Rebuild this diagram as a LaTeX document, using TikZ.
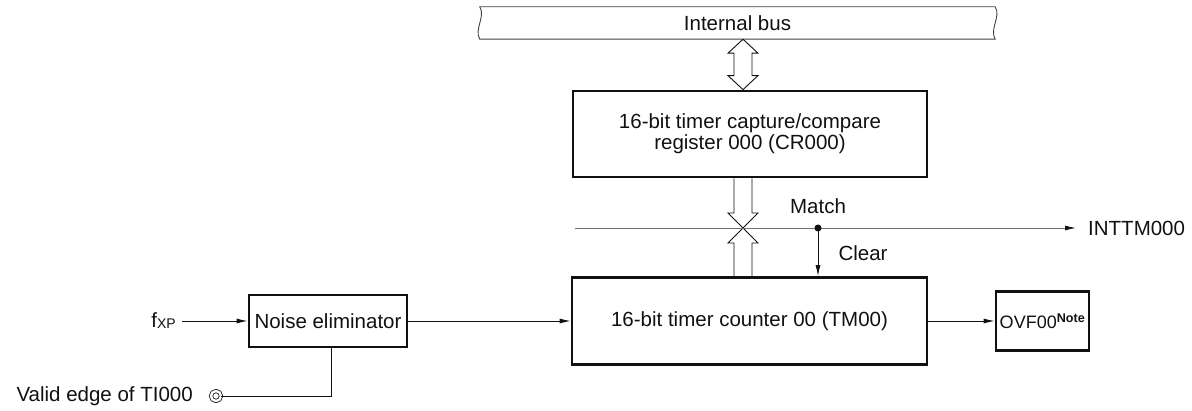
\documentclass[tikz,border=0pt]{standalone}
\usepackage{fontspec}
\setmainfont{Liberation Sans}
\usetikzlibrary{arrows.meta,calc}
\definecolor{tmInk}{HTML}{111111}
\definecolor{tmGrey}{HTML}{707070}
\newcommand{\TMType}{\fontsize{20.5}{21}\selectfont}
\tikzset{tm/base/.style={x=1pt,y=1pt,line cap=butt,line join=miter,
  every node/.style={font=\TMType,inner sep=0pt,text=tmInk}},
  tm/arrow/.style={-{Latex[length=11pt,width=5pt,color=tmInk]},draw=tmInk,line width=.9pt},
  tm/wire/.style={draw=tmInk,line width=.9pt},
  tm/data/.style={draw=tmInk,line width=.9pt},
  tm/block/.style={draw=tmInk,line width=2.8pt,align=center},
  tm/pin/.style={circle,draw=tmInk,line width=.8pt,double=white,double distance=2.4pt,
    minimum size=10pt}}

\begin{document}
\begin{tikzpicture}[tm/base]
  \useasboundingbox (0,0) rectangle (1192,410);
  % Bus band, register and counter blocks.
  \node[minimum width=515pt,minimum height=32pt] (bus) at (737.5,387) {Internal bus};
  \draw[tm/wire,draw=tmGrey!50!tmInk] (bus.north west) -- (bus.north east)
    .. controls +(6,-10) and +(-6,10) .. (bus.south east) -- (bus.south west)
    .. controls +(-6,10) and +(6,-10) .. cycle;
  \node[tm/block,minimum width=354pt,minimum height=86pt] (cr) at (750,276)
    {16-bit timer capture/compare\\register 000 (CR000)};
  \node[tm/block,minimum width=355pt,minimum height=87pt] (tm) at (749.5,89)
    {16-bit timer counter 00 (TM00)};
  \node[tm/block,minimum width=158pt,minimum height=52pt] (noise) at (328,89) {Noise eliminator};
  \node[tm/block,minimum width=93pt,minimum height=59pt] (ovf) at (1042.5,89)
    {\fontsize{18}{18}\selectfont OVF00\textsuperscript{\bfseries Note}};
  \coordinate (port) at (743,182);
  \coordinate (tap) at (818,182);
  \coordinate (mleft) at (575,182);
  % Hollow data paths; the two lower heads meet on the match line.
  \draw[tm/data] (bus.south -| port) -- ++(15,-14) -- ++(-6,0)
    -- ($(cr.north -| port)+(9,14)$) -- ++(6,0) -- (cr.north -| port) -- ++(-15,14)
    -- ++(6,0) -- ($(bus.south -| port)+(-9,-14)$) -- ++(-6,0) -- cycle;
  \draw[tm/data] ($(cr.south -| port)+(-9,0)$) |- ($(port)+(-15,15)$) -- (port)
    -- ($(port)+(15,15)$) -| ($(cr.south -| port)+(9,0)$);
  \draw[tm/data] ($(tm.north -| port)+(-9,0)$) |- ($(port)+(-15,-15)$) -- (port)
    -- ($(port)+(15,-15)$) -| ($(tm.north -| port)+(9,0)$);
  % Match signal, clear tap and interrupt output.
  \node[anchor=west] (int) at (1088,182) {INTTM000};
  \draw[tm/arrow,draw=tmGrey,shorten >=12pt] (mleft) -- (int.west);
  \fill[tmInk] (tap) circle (3.5);
  \node (match) at (818,204) {Match};
  \draw[tm/arrow] (tap) -- (tap |- tm.north);
  \node (clear) at (863,157) {Clear};
  % Count clock path.
  \node[anchor=east] (fxp) at (176,89) {f\raisebox{-1pt}{\fontsize{14}{14}\selectfont XP}};
  \draw[tm/arrow] ($(fxp.east)+(6,0)$) -- (noise.west);
  \draw[tm/arrow] (noise) -- (tm);
  \draw[tm/arrow] (tm) -- (ovf);
  \node[tm/pin] (ti) at (216,14) {};
  \node[anchor=east] (valid) at (193,14) {Valid edge of TI000};
  \draw[tm/wire] (ti.east) -| ($(noise.south)+(3,0)$);
\end{tikzpicture}
\end{document}
